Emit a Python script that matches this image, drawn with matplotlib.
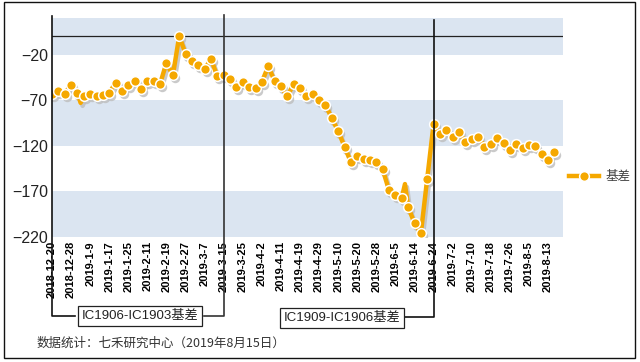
import numpy as np
import matplotlib
matplotlib.use("Agg")
import matplotlib.pyplot as plt
import matplotlib.transforms as mtrans
from matplotlib.lines import Line2D
from matplotlib.patches import Rectangle

plt.rcParams['font.family'] = ['Liberation Sans', 'Noto Sans CJK SC', 'DejaVu Sans']

# 交易日标签(每6个交易日一个)
tick_labels = ["2018-12-20", "2018-12-28", "2019-1-9", "2019-1-17", "2019-1-25",
               "2019-2-11", "2019-2-19", "2019-2-27", "2019-3-7", "2019-3-15",
               "2019-3-25", "2019-4-2", "2019-4-11", "2019-4-19", "2019-4-29",
               "2019-5-10", "2019-5-20", "2019-5-28", "2019-6-5", "2019-6-14",
               "2019-6-24", "2019-7-2", "2019-7-10", "2019-7-18", "2019-7-26",
               "2019-8-5", "2019-8-13"]
tick_step = 6

# 基差, 每2个交易日一个点 (2018-12-20 ~ 2019-8-15)
basis = [-63, -60, -63, -53, -62, -65, -63, -65, -64, -62,
         -51, -60, -53, -49, -58, -49, -49, -52, -29, -43,
         0, -19, -27, -31, -36, -25, -44, -43, -47, -56,
         -50, -56, -57, -50, -33, -49, -55, -66, -52, -57,
         -65, -63, -70, -75, -90, -104, -121, -138, -131, -135,
         -136, -138, -146, -169, -174, -177, -187, -205, -216, -156,
         -96, -107, -103, -110, -105, -116, -113, -110, -121, -118,
         -111, -117, -125, -118, -122, -119, -120, -129, -136, -127]
# 没有标记点的尖峰
spike_days = [9, 111]
spike_vals = [-73, -162]

# 换月
roll_labels = ["IC1906-IC1903基差", "IC1909-IC1906基差"]
roll_days = ["2019-3-15", "2019-6-24"]

orange = "#F5A800"
band = "#DBE5F1"

days = np.arange(0, 2 * len(basis), 2)
x = np.concatenate([days, spike_days])
y = np.concatenate([basis, spike_vals])
order = np.argsort(x, kind="stable")
x, y = x[order], y[order]
marked = [i for i, d in enumerate(x) if d % 2 == 0]

fig = plt.figure(figsize=(6.4, 3.62), dpi=100)
W, H = 640, 362
ax = fig.add_axes([52 / W, 1 - 237 / H, (563 - 52) / W, (237 - 18) / H])
ax.set_xlim(0, 160.7)
ax.set_ylim(-220, 20)

for lo in [-220, -120, -20]:
    ax.axhspan(lo, lo + 50, color=band, lw=0, zorder=0)
ax.axhline(0, color="#222222", lw=0.9, zorder=1)

# 阴影
shadow = mtrans.offset_copy(ax.transData, fig=fig, x=2, y=-3, units="dots")
ax.plot(x, y, color="#BDBDBD", lw=3.2, alpha=0.8, marker="o", ms=6.8,
        markevery=marked, mfc="#BDBDBD", mec="none", transform=shadow, zorder=2)
ax.plot(x, y, color=orange, lw=3.2, marker="o", ms=7, markevery=marked,
        mfc=orange, mec="white", mew=1.1, zorder=3, label="基差")

for s in ax.spines.values():
    s.set_visible(False)
ax.set_xticks(np.arange(len(tick_labels)) * tick_step)
ax.set_xticklabels(tick_labels, rotation=90, fontsize=8, fontweight="bold",
                   va="top", ha="center")
ax.tick_params(axis="x", length=0, pad=3)
ax.set_yticks(np.arange(-220, 0, 50))
ax.tick_params(axis="y", length=0, pad=3, labelsize=11.5, labelcolor="#222222")

# 左轴线和换月标注
def fy(py):
    return 1 - py / H

def fx_of(day):
    return fig.transFigure.inverted().transform(ax.transData.transform((day, 0)))[0]

x0 = fx_of(0)
x1 = fx_of(tick_labels.index(roll_days[0]) * tick_step)
x2 = fx_of(tick_labels.index(roll_days[1]) * tick_step)
lc = "#111111"
fig.add_artist(Line2D([x0, x0, 75 / W], [fy(16), fy(316), fy(316)], color=lc, lw=1.2))
fig.add_artist(Line2D([204 / W, x1, x1], [fy(316), fy(316), fy(15)], color="#333333", lw=1.2))
fig.add_artist(Line2D([402 / W, x2, x2], [fy(317), fy(317), fy(20)], color=lc, lw=1.2))

box = dict(boxstyle="square,pad=0.3", fc="white", ec="#222222", lw=0.9)
fig.text(140 / W, fy(316), roll_labels[0], ha="center", va="center", fontsize=9.5,
         color="#222222", bbox=box)
fig.text(342 / W, fy(318), roll_labels[1], ha="center", va="center", fontsize=9.5,
         color="#222222", bbox=box)

fig.text(37 / W, fy(343), "数据统计：七禾研究中心（2019年8月15日）", ha="left", va="center",
         fontsize=9, color="#333333",
         family=["Noto Sans CJK SC", "DejaVu Sans"])

leg = ax.legend(loc="center left", bbox_to_anchor=(569 / W, fy(177)),
                bbox_transform=fig.transFigure, frameon=False, fontsize=9,
                handlelength=2.4, handletextpad=0.5, borderpad=0, borderaxespad=0)
for t in leg.get_texts():
    t.set_color("#404040")

fig.add_artist(Rectangle((4 / W, fy(358)), (635 - 4) / W, (358 - 2) / H,
                         fill=False, ec="#111111", lw=1.0, transform=fig.transFigure))

fig.savefig("out.png", dpi=100)
